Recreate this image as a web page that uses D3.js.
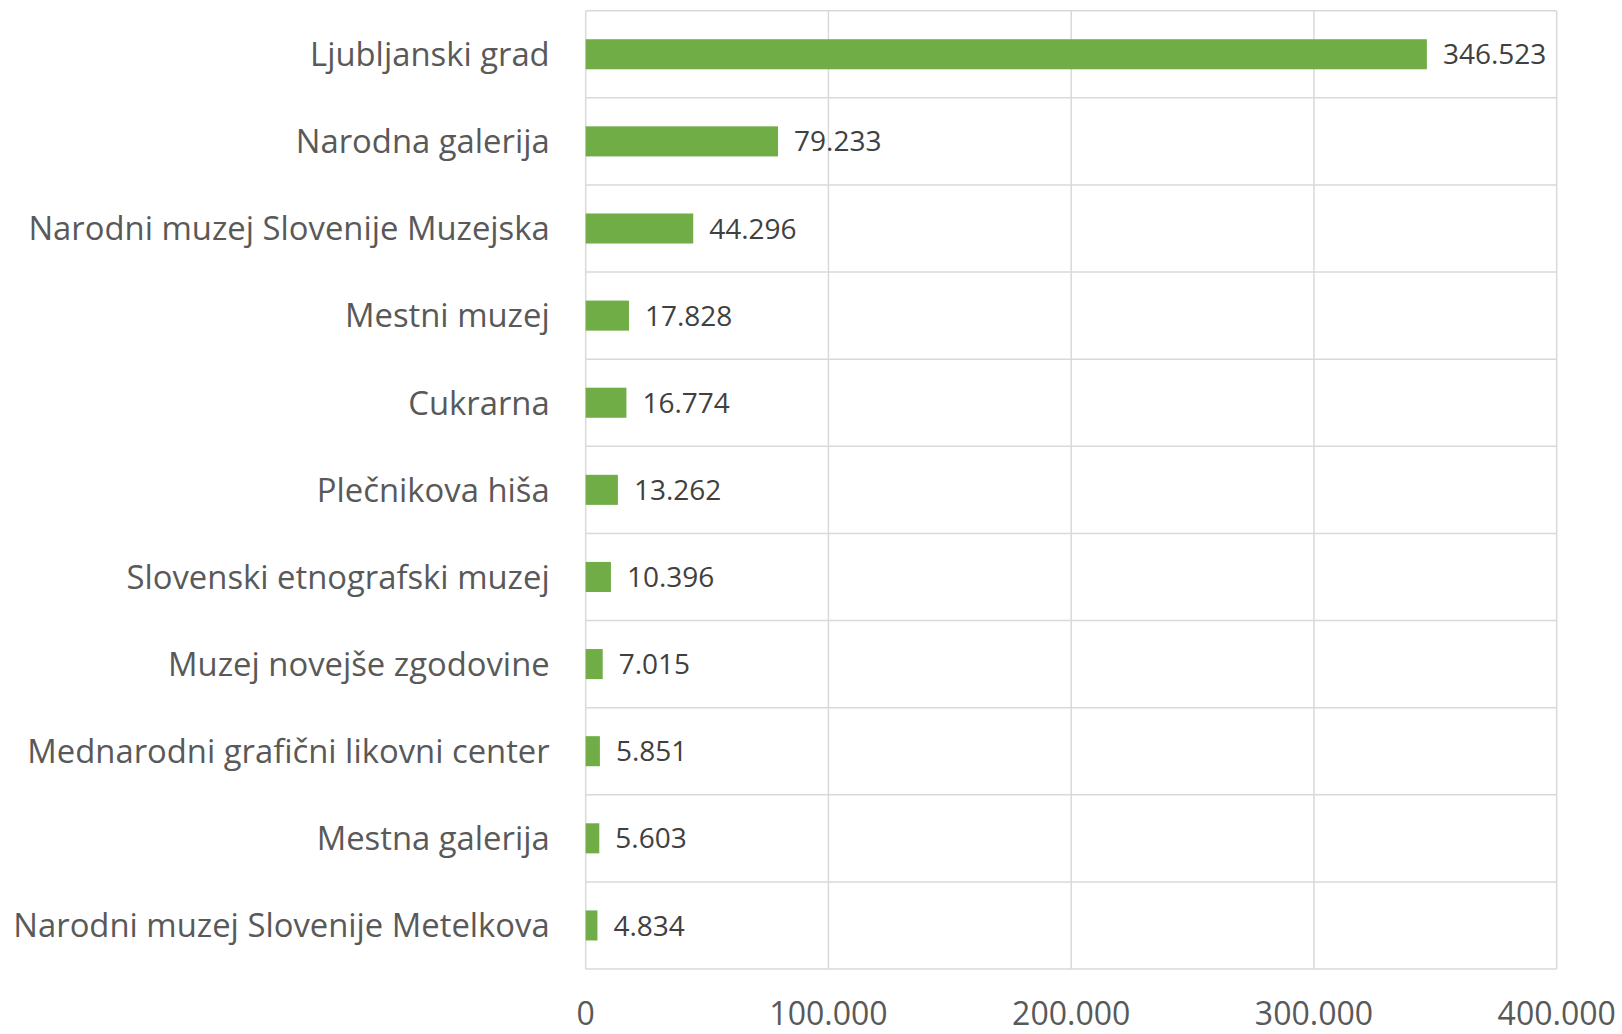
<!DOCTYPE html>
<html><head><meta charset="utf-8">
<script src="https://cdn.jsdelivr.net/npm/d3@7"></script>
<style>html,body{margin:0;padding:0;background:#fff;}svg{display:block;}</style>
</head><body>
<svg id="chart" width="1622" height="1034"></svg>
<script>
const categories = ["Ljubljanski grad","Narodna galerija","Narodni muzej Slovenije Muzejska","Mestni muzej","Cukrarna","Plečnikova hiša","Slovenski etnografski muzej","Muzej novejše zgodovine","Mednarodni grafični likovni center","Mestna galerija","Narodni muzej Slovenije Metelkova"];
const values = [346523,79233,44296,17828,16774,13262,10396,7015,5851,5603,4834];
const xTicks = [0,100000,200000,300000,400000];

(function(){
const svg = d3.select("#chart");
const pl = 585.7, pr = 1556.7, pt = 10.7, pb = 969;
const x = d3.scaleLinear().domain([0,400000]).range([pl,pr]);
const y = d3.scaleBand().domain(categories).range([pt,pb]).paddingInner(0.655).paddingOuter(0.3275);
const yGrid = d3.scaleBand().domain(categories).range([pt,pb]);
const loc = d3.formatLocale({decimal:",",thousands:".",grouping:[3],currency:["",""]});
const fmt = loc.format(",d");
const grid = "#D9D9D9";

const hLines = categories.map(c=>yGrid(c)).concat([pb]);
svg.append("g").selectAll("line").data(hLines).join("line")
  .attr("x1",pl).attr("x2",pr).attr("y1",d=>d).attr("y2",d=>d)
  .attr("stroke",grid).attr("stroke-width",1.5);
svg.append("g").selectAll("line").data(xTicks).join("line")
  .attr("x1",d=>x(d)).attr("x2",d=>x(d)).attr("y1",pt).attr("y2",pb)
  .attr("stroke",grid).attr("stroke-width",1.5);

svg.append("g").selectAll("rect").data(values).join("rect")
  .attr("x",x(0)).attr("y",(d,i)=>y(categories[i]))
  .attr("width",d=>x(d)-x(0)).attr("height",y.bandwidth())
  .attr("fill","#70AD47");

svg.append("g").selectAll("text").data(values).join("text")
  .attr("x",d=>x(d)+16).attr("y",(d,i)=>yGrid(categories[i])+yGrid.bandwidth()/2)
  .attr("dy","0.36em")
  .attr("font-family","Open Sans").attr("font-size",28).attr("fill","#404040")
  .text(d=>fmt(d));

svg.append("g").selectAll("text").data(categories).join("text")
  .attr("x",pl-36).attr("y",c=>yGrid(c)+yGrid.bandwidth()/2)
  .attr("dy","0.36em").attr("text-anchor","end")
  .attr("font-family","Open Sans").attr("font-size",32.8).attr("fill","#595959")
  .text(c=>c);

svg.append("g").selectAll("text").data(xTicks).join("text")
  .attr("x",d=>x(d)).attr("y",1025)
  .attr("text-anchor","middle")
  .attr("font-family","Open Sans").attr("font-size",32).attr("fill","#595959")
  .text(d=>fmt(d));
})();
</script>
</body></html>
